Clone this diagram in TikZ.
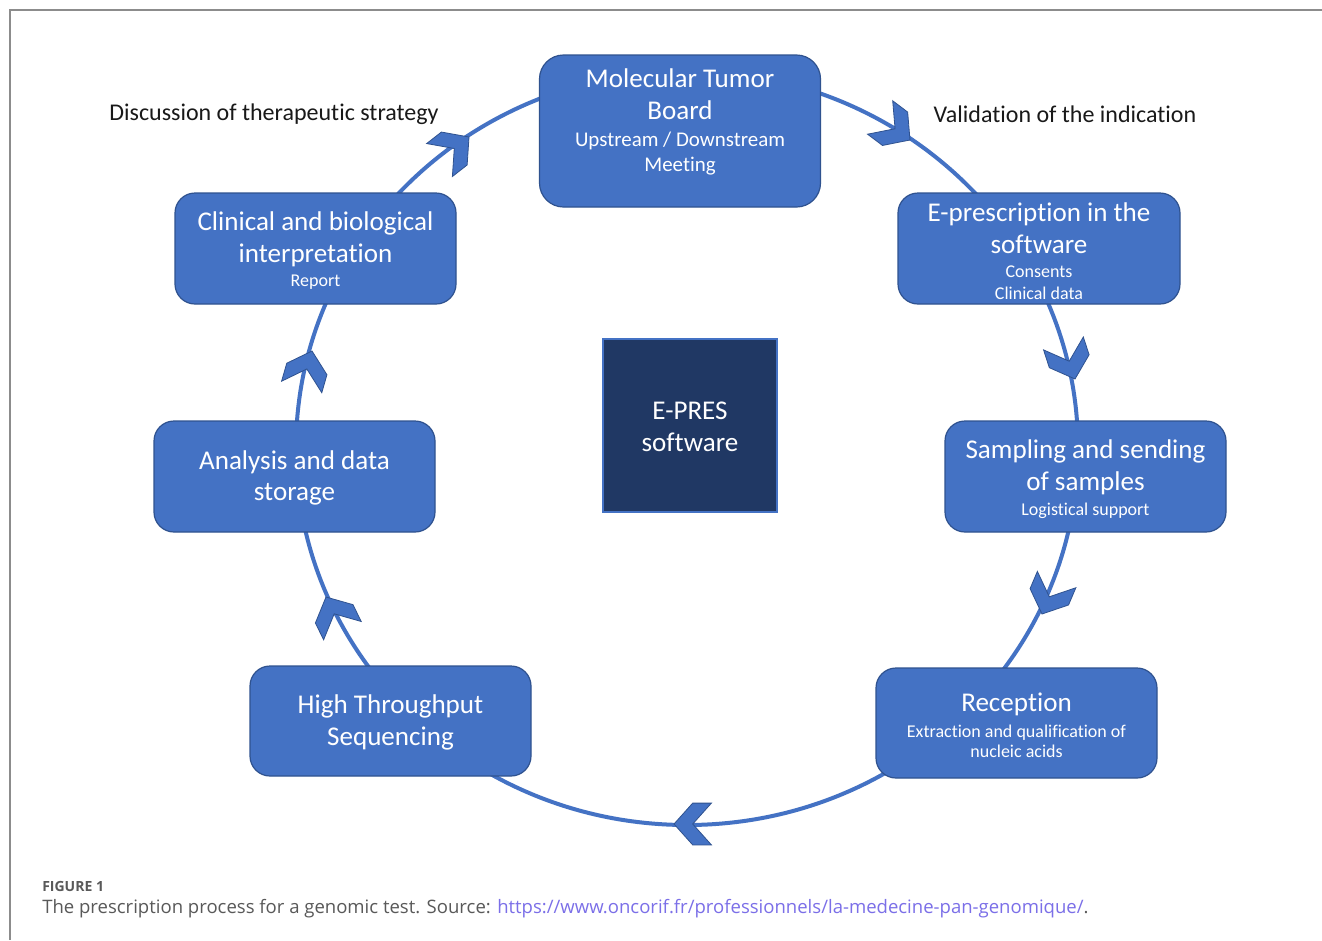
\documentclass[tikz,border=0pt]{standalone}
\usepackage{fontspec}
\setmainfont{Carlito}[Ligatures=NoCommon]
\newfontfamily\capfont{Open Sans}
\definecolor{boxblue}{HTML}{4472C4}
\definecolor{boxedge}{HTML}{2F528F}
\definecolor{navy}{HTML}{203864}
\definecolor{framegray}{HTML}{8C8C8C}
\definecolor{capgray}{HTML}{595959}
\definecolor{urlcol}{HTML}{7B6FE8}
\begin{document}
\begin{tikzpicture}[x=0.75pt,y=-0.75pt,
  stepbox/.style={draw=boxedge, line width=0.9pt, fill=boxblue, rounded corners=15pt,
    minimum width=210.75pt, minimum height=83.25pt, inner sep=0pt},
  ttl/.style={text=white, align=center, font=\fontsize{20.3}{23.8}\selectfont, inner sep=0pt},
  subt/.style={text=white, align=center, font=\fontsize{13.5}{16}\selectfont, inner sep=0pt},
  lbl/.style={text=black!90, font=\fontsize{18}{21}\selectfont, inner sep=0pt},
  cycleline/.style={draw=boxblue, line width=3pt},
  chevarrow/.pic={\filldraw[fill=boxblue, draw=boxedge, line width=0.6pt, scale=1.1]
    (0,0) -- (-17,19) -- (-34,19) -- (-17,0) -- (-34,-19) -- (-17,-19) -- cycle;}
]
\useasboundingbox (0,0) rectangle (1322,940);
\fill[white] (0,0) rectangle (1322,940);
% frame
\draw[framegray, line width=1.5pt] (10,940) -- (10,10) -- (1322,10);

% cycle
\coordinate (ctr) at (687,448);
\draw[cycleline] (ctr) ellipse [x radius=293.25pt, y radius=282.75pt];

% arrows
\pic[rotate=-37] at (910,140) {chevarrow};
\pic[rotate=-72] at (1075,379) {chevarrow};
\pic[rotate=-113] at (1042,614) {chevarrow};
\pic[rotate=180] at (674,824) {chevarrow};
\pic[rotate=116] at (326,597) {chevarrow};
\pic[rotate=74] at (312,351) {chevarrow};
\pic[rotate=38] at (469,137) {chevarrow};

% boxes
\node[stepbox, rounded corners=18pt, minimum width=210.75pt, minimum height=114pt] (mtb) at (680,131) {};
\node[stepbox, minimum width=211.5pt] (epres) at (1039,248.5) {};
\node[stepbox] (samp) at (1085.5,476.5) {};
\node[stepbox, minimum height=82.5pt] (recep) at (1016.5,723) {};
\node[stepbox, minimum height=82.5pt] (hts) at (390.5,721) {};
\node[stepbox] (anal) at (294.5,476.5) {};
\node[stepbox] (clin) at (315.5,248.5) {};
\node[draw=boxblue, line width=0.8pt, fill=navy, minimum width=130.5pt, minimum height=129.75pt, inner sep=0pt] (soft) at (690,425.5) {};

% texts
\node[ttl] (mtbT) at (680,94) {Molecular Tumor\\Board};
\node[subt, font=\fontsize{15.7}{19}\selectfont] (mtbS) at (680,153.5) {Upstream / Downstream\\Meeting};
\node[ttl] (epresT) at (1039,228) {E-prescription in the\\software};
\node[subt, font=\fontsize{13.5}{16.5}\selectfont] (epresS) at (1039,282.5) {Consents\\Clinical data};
\node[ttl] (sampT) at (1085.5,467.5) {Sampling and sending\\of samples};
\node[subt] (sampS) at (1085.5,510.5) {Logistical support};
\node[ttl] (recepT) at (1016.5,704) {Reception};
\node[subt, font=\fontsize{13.5}{15}\selectfont] (recepS) at (1016.5,741) {Extraction and qualification of\\nucleic acids};
\node[ttl] (htsT) at (390.5,722.5) {High Throughput\\Sequencing};
\node[ttl] (analT) at (294.5,478) {Analysis and data\\storage};
\node[ttl] (clinT) at (315.5,239) {Clinical and biological\\interpretation};
\node[subt] (clinS) at (315.5,282.5) {Report};
\node[ttl] (softT) at (690,426.5) {E-PRES\\software};

% side labels
\node[lbl] (disc) at (274,114) {Discussion of therapeutic strategy};
\node[lbl] (valid) at (1065,114) {Validation of the indication};

% caption
\node[anchor=west, inner sep=0pt, text=capgray, font=\capfont\bfseries\fontsize{10.5}{12}\selectfont] (figlbl) at (42,886) {FIGURE 1};
\node[anchor=west, inner sep=0pt, text=capgray, font=\capfont\fontsize{13.9}{16}\selectfont] (captxt) at (42,909) {The prescription process for a genomic test. Source: \textcolor{urlcol}{https://www.oncorif.fr/professionnels/la-medecine-pan-genomique/}.};
\end{tikzpicture}
\end{document}
